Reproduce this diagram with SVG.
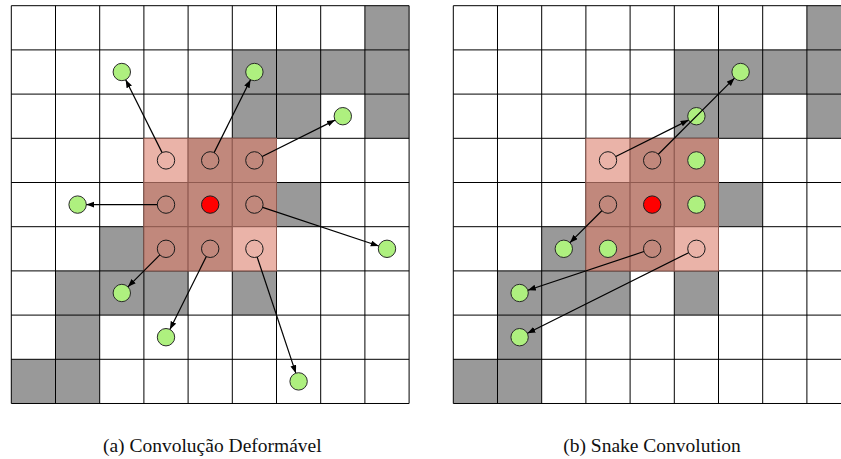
<svg xmlns="http://www.w3.org/2000/svg" xmlns:xlink="http://www.w3.org/1999/xlink" width="841" height="459" viewBox="0 0 841 459">
  <style>
    .blk { fill: #999999; }
    .pl { fill: #eab3a8; stroke: #8f5a50; stroke-width: 1; }
    .pd { fill: #c1887c; stroke: #8f5a50; stroke-width: 1; }
    .grid { fill: none; stroke: #000000; stroke-width: 1; }
    .src { fill: none; stroke: #1a1a1a; stroke-width: 1; }
    .ctr { fill: #ff0000; stroke: #1a1a1a; stroke-width: 1; }
    .smp { fill: #aef07f; stroke: #2a2a2a; stroke-width: 1; }
    .arr { fill: none; stroke: #000000; stroke-width: 1.2; marker-end: url(#ah); }
    .cap { font-family: "Liberation Serif", "Times New Roman", serif; font-size: 19.5px; fill: #111111; text-anchor: middle; }
  </style>
  <defs>
    <marker id="ah" markerUnits="userSpaceOnUse" markerWidth="9" markerHeight="7" refX="8" refY="3" orient="auto">
      <path d="M0,0 L8,3 L0,6 z" fill="#000000"/>
    </marker>
    <!-- 9x9 board: blocked cells, 3x3 kernel patch and cell lines (cell = 44.2) -->
    <g id="board">
      <rect x="0" y="0" width="397.8" height="397.8" fill="#ffffff"/>
      <rect class="blk" x="353.6" y="0" width="44.2" height="44.2"/>
      <rect class="blk" x="221" y="44.2" width="176.8" height="44.2"/>
      <rect class="blk" x="221" y="88.4" width="88.4" height="44.2"/>
      <rect class="blk" x="353.6" y="88.4" width="44.2" height="44.2"/>
      <rect class="blk" x="265.2" y="176.8" width="44.2" height="44.2"/>
      <rect class="blk" x="88.4" y="221" width="44.2" height="44.2"/>
      <rect class="blk" x="44.2" y="265.2" width="132.6" height="44.2"/>
      <rect class="blk" x="221" y="265.2" width="44.2" height="44.2"/>
      <rect class="blk" x="44.2" y="309.4" width="44.2" height="44.2"/>
      <rect class="blk" x="0" y="353.6" width="88.4" height="44.2"/>
      <path class="grid" d="M0,0V397.8M44.2,0V397.8M88.4,0V397.8M132.6,0V397.8M176.8,0V397.8M221,0V397.8M265.2,0V397.8M309.4,0V397.8M353.6,0V397.8M397.8,0V397.8M0,0H397.8M0,44.2H397.8M0,88.4H397.8M0,132.6H397.8M0,176.8H397.8M0,221H397.8M0,265.2H397.8M0,309.4H397.8M0,353.6H397.8M0,397.8H397.8"/>
      <rect class="pl" x="132.6" y="132.6" width="44.2" height="44.2"/>
      <rect class="pd" x="176.8" y="132.6" width="44.2" height="44.2"/>
      <rect class="pd" x="221" y="132.6" width="44.2" height="44.2"/>
      <rect class="pd" x="132.6" y="176.8" width="44.2" height="44.2"/>
      <rect class="pd" x="176.8" y="176.8" width="44.2" height="44.2"/>
      <rect class="pd" x="221" y="176.8" width="44.2" height="44.2"/>
      <rect class="pd" x="132.6" y="221" width="44.2" height="44.2"/>
      <rect class="pd" x="176.8" y="221" width="44.2" height="44.2"/>
      <rect class="pl" x="221" y="221" width="44.2" height="44.2"/>
    </g>
  </defs>

  <!-- (a) deformable convolution -->
  <g id="panel-a" transform="translate(11.3,5.7)">
    <use xlink:href="#board" href="#board"/>
    <g id="a-kernel">
      <circle class="src" cx="154.7" cy="154.7" r="8.7"/>
      <circle class="src" cx="198.9" cy="154.7" r="8.7"/>
      <circle class="src" cx="243.1" cy="154.7" r="8.7"/>
      <circle class="src" cx="154.7" cy="198.9" r="8.7"/>
      <circle class="ctr" cx="198.9" cy="198.9" r="8.7"/>
      <circle class="src" cx="243.1" cy="198.9" r="8.7"/>
      <circle class="src" cx="154.7" cy="243.1" r="8.7"/>
      <circle class="src" cx="198.9" cy="243.1" r="8.7"/>
      <circle class="src" cx="243.1" cy="243.1" r="8.7"/>
    </g>
    <g id="a-samples">
      <circle class="smp" cx="110.5" cy="66.3" r="8.7"/>
      <circle class="smp" cx="243.1" cy="66.3" r="8.7"/>
      <circle class="smp" cx="331.5" cy="110.5" r="8.7"/>
      <circle class="smp" cx="66.3" cy="198.9" r="8.7"/>
      <circle class="smp" cx="375.7" cy="243.1" r="8.7"/>
      <circle class="smp" cx="110.5" cy="287.3" r="8.7"/>
      <circle class="smp" cx="154.7" cy="331.5" r="8.7"/>
      <circle class="smp" cx="287.3" cy="375.7" r="8.7"/>
    </g>
    <g id="a-offsets">
      <line class="arr" x1="150.81" y1="146.92" x2="114.39" y2="74.08"/>
      <line class="arr" x1="202.79" y1="146.92" x2="239.21" y2="74.08"/>
      <line class="arr" x1="250.88" y1="150.81" x2="323.72" y2="114.39"/>
      <line class="arr" x1="146.0" y1="198.9" x2="75.0" y2="198.9"/>
      <line class="arr" x1="251.35" y1="201.65" x2="367.45" y2="240.35"/>
      <line class="arr" x1="148.55" y1="249.25" x2="116.65" y2="281.15"/>
      <line class="arr" x1="195.01" y1="250.88" x2="158.59" y2="323.72"/>
      <line class="arr" x1="245.85" y1="251.35" x2="284.55" y2="367.45"/>
    </g>
  </g>

  <!-- (b) snake convolution -->
  <g id="panel-b" transform="translate(453.3,5.7)">
    <use xlink:href="#board" href="#board"/>
    <g id="b-kernel">
      <circle class="src" cx="154.7" cy="154.7" r="8.7"/>
      <circle class="src" cx="198.9" cy="154.7" r="8.7"/>
      <circle class="src" cx="154.7" cy="198.9" r="8.7"/>
      <circle class="ctr" cx="198.9" cy="198.9" r="8.7"/>
      <circle class="src" cx="198.9" cy="243.1" r="8.7"/>
      <circle class="src" cx="243.1" cy="243.1" r="8.7"/>
    </g>
    <g id="b-samples">
      <circle class="smp" cx="287.3" cy="66.3" r="8.7"/>
      <circle class="smp" cx="243.1" cy="110.5" r="8.7"/>
      <circle class="smp" cx="243.1" cy="154.7" r="8.7"/>
      <circle class="smp" cx="243.1" cy="198.9" r="8.7"/>
      <circle class="smp" cx="110.5" cy="243.1" r="8.7"/>
      <circle class="smp" cx="154.7" cy="243.1" r="8.7"/>
      <circle class="smp" cx="66.3" cy="287.3" r="8.7"/>
      <circle class="smp" cx="66.3" cy="331.5" r="8.7"/>
    </g>
    <g id="b-offsets">
      <line class="arr" x1="162.48" y1="150.81" x2="235.32" y2="114.39"/>
      <line class="arr" x1="205.05" y1="148.55" x2="281.15" y2="72.45"/>
      <line class="arr" x1="148.55" y1="205.05" x2="116.65" y2="236.95"/>
      <line class="arr" x1="190.65" y1="245.85" x2="74.55" y2="284.55"/>
      <line class="arr" x1="235.32" y1="246.99" x2="74.08" y2="327.61"/>
    </g>
  </g>

  <g id="captions">
    <text class="cap" x="212.3" y="451.5">(a) Convolução Deformável</text>
    <text class="cap" x="652" y="451.5">(b) Snake Convolution</text>
  </g>
</svg>
